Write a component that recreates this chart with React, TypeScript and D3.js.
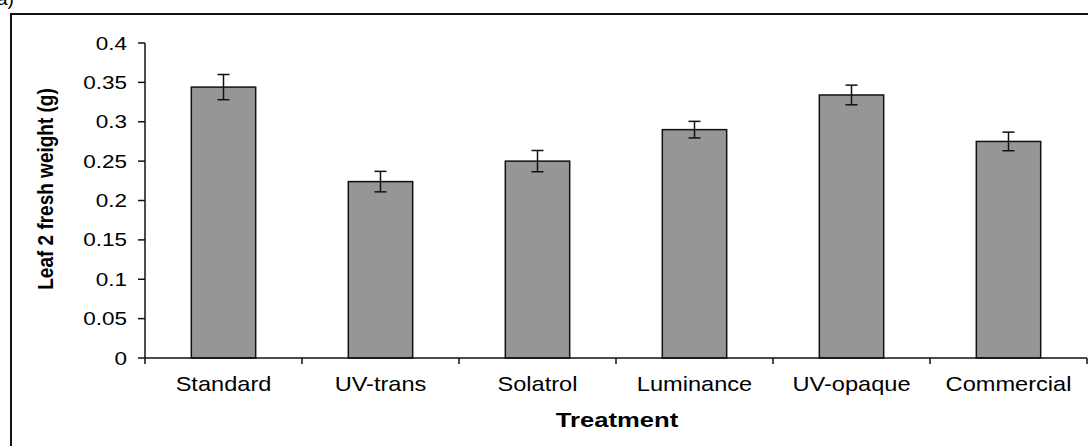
import React from "react";
import * as d3 from "d3";

const categories = ["Standard", "UV-trans", "Solatrol", "Luminance", "UV-opaque", "Commercial"];
const values = [0.344, 0.224, 0.25, 0.29, 0.334, 0.275];
const errors = [0.016, 0.013, 0.0135, 0.0105, 0.0125, 0.0118];
const yTicks = [0, 0.05, 0.1, 0.15, 0.2, 0.25, 0.3, 0.35, 0.4];
const yTickLabels = ["0", "0.05", "0.1", "0.15", "0.2", "0.25", "0.3", "0.35", "0.4"];
const yTitle = "Leaf 2 fresh weight (g)";
const xTitle = "Treatment";

const W = 1088;
const H = 446;
const FONT = "'Liberation Sans', Arial, sans-serif";

export default function App() {
  const x = d3.scaleBand<string>().domain(categories).range([145, 1087]).paddingInner(0.59).paddingOuter(0.295);
  const band = d3.scaleBand<string>().domain(categories).range([145, 1087]);
  const y = d3.scaleLinear().domain([0, 0.4]).range([358, 43]);
  const bounds = d3.range(categories.length + 1).map((i) => 145 + i * band.step());

  return (
    <svg width={W} height={H} style={{ position: "absolute", left: 0, top: 0, background: "#fff" }}>
      <rect x={0} y={0} width={W} height={H} fill="#fff" />
      <text x={-3} y={5} fontFamily={FONT} fontSize={19} fill="#000">a)</text>
      <rect x={11} y={14} width={1100} height={450} fill="none" stroke="#111" strokeWidth={2} />

      {categories.map((c, i) => {
        const bx = x(c)!;
        const bw = x.bandwidth();
        const cx = bx + bw / 2;
        return (
          <g key={c}>
            <rect x={bx} y={y(values[i])} width={bw} height={y(0) - y(values[i])} fill="#969696" stroke="#111" strokeWidth={1.5} />
            <line x1={cx} x2={cx} y1={y(values[i] + errors[i])} y2={y(values[i] - errors[i])} stroke="#111" strokeWidth={1.5} />
            <line x1={cx - 6} x2={cx + 6} y1={y(values[i] + errors[i])} y2={y(values[i] + errors[i])} stroke="#111" strokeWidth={1.5} />
            <line x1={cx - 6} x2={cx + 6} y1={y(values[i] - errors[i])} y2={y(values[i] - errors[i])} stroke="#111" strokeWidth={1.5} />
            <text transform={`translate(${band(c)! + band.bandwidth() / 2},391) scale(1.18,1)`} textAnchor="middle" fontFamily={FONT} fontSize={20} fill="#000">{c}</text>
          </g>
        );
      })}

      <line x1={145} x2={145} y1={y(0.4)} y2={y(0)} stroke="#111" strokeWidth={1.5} />
      <line x1={145} x2={1087} y1={y(0)} y2={y(0)} stroke="#111" strokeWidth={1.5} />
      {yTicks.map((t, i) => (
        <g key={t}>
          <line x1={138} x2={145} y1={y(t)} y2={y(t)} stroke="#111" strokeWidth={1.5} />
          <text transform={`translate(127,${y(t) + 6.5}) scale(1.25,1)`} textAnchor="end" fontFamily={FONT} fontSize={18} fill="#000">{yTickLabels[i]}</text>
        </g>
      ))}
      {bounds.map((b, i) => (
        <line key={i} x1={b} x2={b} y1={y(0)} y2={y(0) + 6} stroke="#111" strokeWidth={1.5} />
      ))}

      <text transform={`translate(617,427) scale(1.22,1)`} textAnchor="middle" fontFamily={FONT} fontWeight="bold" fontSize={21} fill="#000">{xTitle}</text>
      <text transform={`translate(53,189) rotate(-90) scale(1,1.15)`} textAnchor="middle" fontFamily={FONT} fontWeight="bold" fontSize={19} fill="#000">{yTitle}</text>
    </svg>
  );
}
